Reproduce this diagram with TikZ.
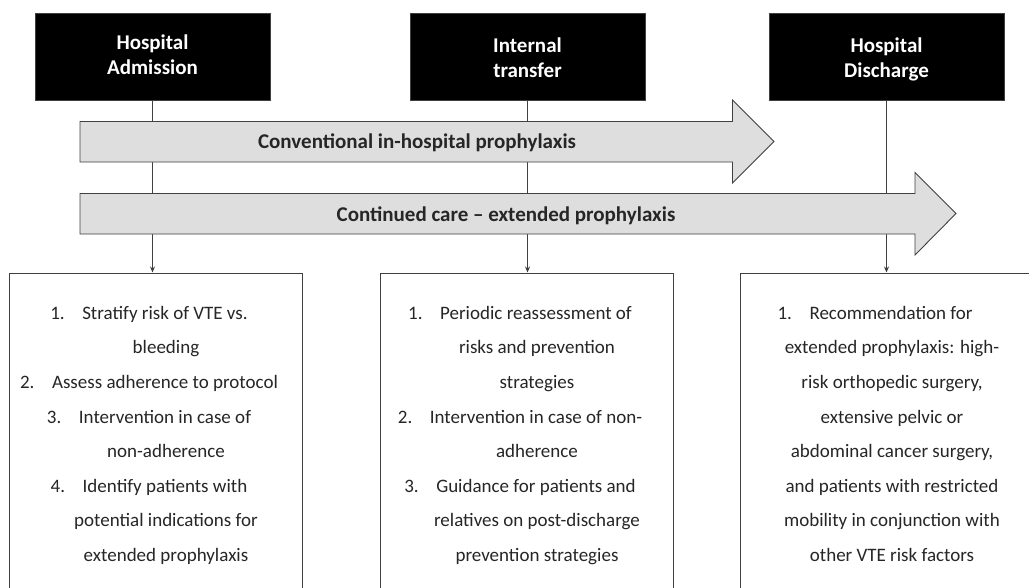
\documentclass[tikz,border=0pt]{standalone}
\usepackage{fontspec}
\setmainfont{Carlito}
\usetikzlibrary{arrows.meta}
\definecolor{txt}{HTML}{262626}
\definecolor{edgec}{HTML}{404040}
\definecolor{bandc}{HTML}{DEDEDE}
\newcommand{\itm}[1]{\makebox[32pt][l]{#1}}
\newcommand{\cnt}{\hspace*{34pt}}
\begin{document}
\begin{tikzpicture}[x=1pt,y=-1pt,
  event/.style={fill=black,draw=edgec,line width=0.6pt,minimum width=235pt,minimum height=87pt,inner sep=0pt},
  headtxt/.style={text=white,font=\fontsize{21}{25}\selectfont\bfseries,align=center,inner sep=0pt,anchor=north},
  bandshape/.style={fill=bandc,draw=edgec,line width=0.9pt,line join=miter},
  bandlabel/.style={font=\fontsize{21}{25}\selectfont\bfseries,text=txt,inner sep=0pt,anchor=base},
  infobox/.style={draw=edgec,line width=0.9pt,fill=white,anchor=north west,inner sep=0pt,minimum height=340pt},
  infotext/.style={font=\fontsize{19}{34.6}\selectfont,text=txt,align=center,anchor=north,inner sep=0pt},
  link/.style={draw=edgec,line width=0.8pt,-{Stealth[length=6pt,width=5pt]}}
]
\useasboundingbox (0,0) rectangle (1029,587);

% event boxes
\node[event] (adm) at (152.5,56.5) {};
\node[event] (trf) at (527.5,56.5) {};
\node[event] (dis) at (886.5,56.5) {};
\node[headtxt] (admt) at (152.5,31.5) {\strut Hospital\\Admission};
\node[headtxt] (trft) at (527.5,35.0) {\strut Internal\\transfer};
\node[headtxt] (dist) at (886.5,35.0) {\strut Hospital\\Discharge};

% info boxes
\node[infobox,minimum width=293pt] (b1) at (8.5,272.5) {};
\node[infobox,minimum width=293pt] (b2) at (379.5,272.5) {};
\node[infobox,minimum width=300pt] (b3) at (740,272.5) {};

% connectors (behind the bands)
\draw[link] (adm.south) -- (adm.south |- b1.north);
\draw[link] (trf.south) -- (trf.south |- b2.north);
\draw[link] (dis.south) -- (dis.south |- b3.north);

% bands
\draw[bandshape] (80,121.5) -- (732.5,121.5) -- (732.5,100) -- (774,141.5) -- (732.5,183) -- (732.5,162) -- (80,162) -- cycle;
\draw[bandshape] (80,193.5) -- (915,193.5) -- (915,172.5) -- (956,213.5) -- (915,255) -- (915,234) -- (80,234) -- cycle;
\node[bandlabel] (l1) at (417,148.3) {Conventional in-hospital prophylaxis};
\node[bandlabel] (l2) at (506,221) {Continued care -- extended prophylaxis};

% info texts
\node[infotext] (t1) at (149,294.8) {\strut\itm{1.}Stratify risk of VTE vs.\\
\cnt bleeding\\
\itm{2.}Assess adherence to protocol\\
\itm{3.}Intervention in case of\\
\cnt non-adherence\\
\itm{4.}Identify patients with\\
\cnt potential indications for\\
\cnt extended prophylaxis};
\node[infotext] (t2) at (520,294.8) {\strut\itm{1.}Periodic reassessment of\\
\cnt risks and prevention\\
\cnt strategies\\
\itm{2.}Intervention in case of non-\\
\cnt adherence\\
\itm{3.}Guidance for patients and\\
\cnt relatives on post-discharge\\
\cnt prevention strategies};
\node[infotext] (t3) at (875,294.8) {\strut\itm{1.}Recommendation for\\
\cnt extended prophylaxis: high-\\
\cnt risk orthopedic surgery,\\
\cnt extensive pelvic or\\
\cnt abdominal cancer surgery,\\
\cnt and patients with restricted\\
\cnt mobility in conjunction with\\
\cnt other VTE risk factors};
\end{tikzpicture}
\end{document}
